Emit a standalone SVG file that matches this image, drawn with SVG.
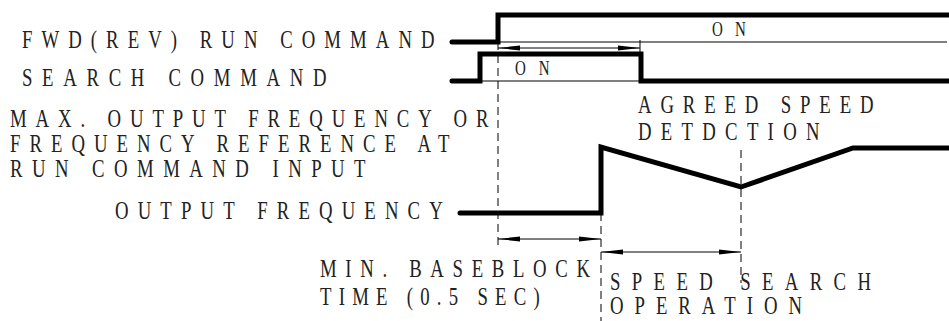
<svg xmlns="http://www.w3.org/2000/svg" width="949" height="321" viewBox="0 0 949 321">
<defs>
<style>
text{font-family:'Liberation Serif','Times New Roman',Times,serif;font-size:25px;fill:#222}
.on{font-size:20px}
.thick{fill:none;stroke:#000;stroke-width:5;stroke-linecap:round;stroke-linejoin:miter}
.thin{fill:none;stroke:#000;stroke-width:1}
.dash{fill:none;stroke:#000;stroke-width:1;stroke-dasharray:8 5}
.dim{fill:none;stroke:#000;stroke-width:1;marker-start:url(#ah);marker-end:url(#ah)}
</style>
<marker id="ah" viewBox="0 0 22 6" refX="22" refY="3" markerWidth="22" markerHeight="6" markerUnits="userSpaceOnUse" orient="auto-start-reverse">
<path d="M0,0.5 L22,3 L0,5.5 Z" fill="#000"/>
</marker>
</defs>
<rect width="949" height="321" fill="#fff"/>

<g id="labels">
<text transform="translate(22,47.5) scale(0.75,1)" textLength="550" lengthAdjust="spacing">FWD(REV) RUN COMMAND</text>
<text transform="translate(22,86) scale(0.75,1)" textLength="406" lengthAdjust="spacing">SEARCH COMMAND</text>
<text transform="translate(10,127) scale(0.75,1)" textLength="638" lengthAdjust="spacing">MAX. OUTPUT FREQUENCY OR</text>
<text transform="translate(10,152) scale(0.75,1)" textLength="586" lengthAdjust="spacing">FREQUENCY REFERENCE AT</text>
<text transform="translate(10,177) scale(0.75,1)" textLength="474" lengthAdjust="spacing">RUN COMMAND INPUT</text>
<text transform="translate(115,219) scale(0.75,1)" textLength="437" lengthAdjust="spacing">OUTPUT FREQUENCY</text>
</g>

<g id="fwd-run">
<polyline class="thick" points="452,42 498,42 498,15 955,15"/>
<line class="thin" x1="498" y1="42" x2="947" y2="42"/>
<text class="on" transform="translate(712,36) scale(0.75,1)" textLength="45" lengthAdjust="spacing">ON</text>
</g>

<g id="search">
<polyline class="thick" points="452,81 480,81 480,54 641,54 641,81 955,81"/>
<line class="thin" x1="480" y1="81" x2="641" y2="81"/>
<text class="on" transform="translate(515,75) scale(0.75,1)" textLength="46" lengthAdjust="spacing">ON</text>
</g>

<g id="agreed-speed">
<text transform="translate(638,113) scale(0.75,1)" textLength="314" lengthAdjust="spacing">AGREED SPEED</text>
<text transform="translate(638,140) scale(0.75,1)" textLength="242" lengthAdjust="spacing">DETDCTION</text>
</g>

<g id="output-frequency">
<polyline class="thick" points="460,213 601,213 601,147 741,187 853,148 955,148"/>
</g>

<g id="min-baseblock">
<text transform="translate(320,277) scale(0.75,1)" textLength="360" lengthAdjust="spacing">MIN. BASEBLOCK</text>
<text transform="translate(320,305) scale(0.75,1)" textLength="293" lengthAdjust="spacing">TIME (0.5 SEC)</text>
</g>

<g id="speed-search">
<text transform="translate(610,290) scale(0.75,1)" textLength="348" lengthAdjust="spacing">SPEED SEARCH</text>
<text transform="translate(610,314) scale(0.75,1)" textLength="256" lengthAdjust="spacing">OPERATION</text>
</g>

<g id="connectors">
<line class="dash" x1="498" y1="42" x2="498" y2="248"/>
<line class="dash" x1="601" y1="213" x2="601" y2="321"/>
<line class="dash" x1="741" y1="150" x2="741" y2="283"/>
<line class="thin" x1="640" y1="40" x2="640" y2="54"/>
<line class="dim" x1="498" y1="48" x2="640" y2="48"/>
<line class="dim" x1="498" y1="239" x2="601" y2="239"/>
<line class="dim" x1="601" y1="252" x2="741" y2="252"/>
</g>
</svg>
